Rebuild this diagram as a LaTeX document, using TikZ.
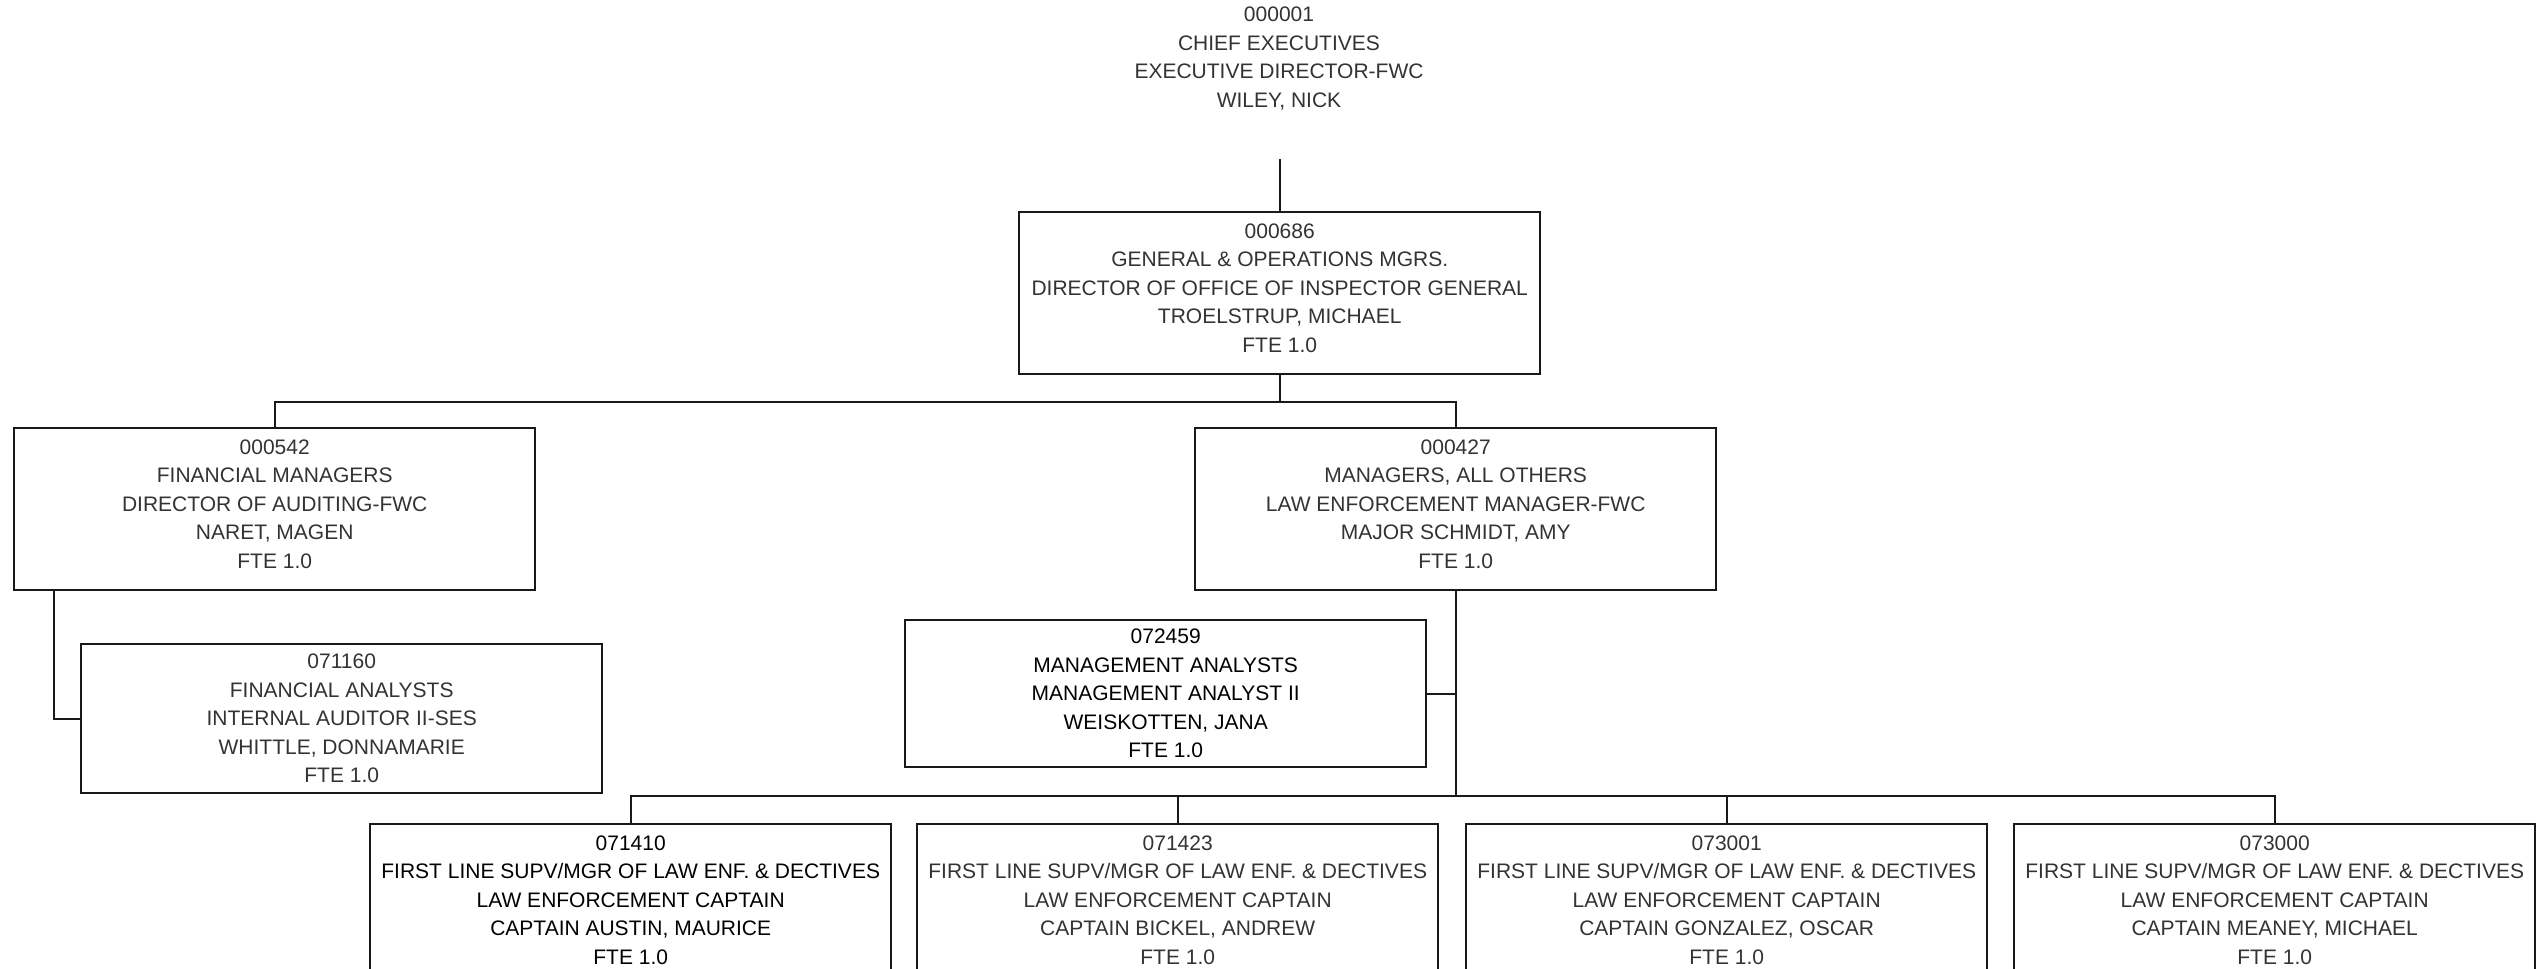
\documentclass[tikz,border=0pt]{standalone}
\usepackage{fontspec}
\setmainfont{Liberation Sans}
\usetikzlibrary{calc}
\begin{document}
\begin{tikzpicture}[x=1pt,y=-1pt,
  label text/.style={font=\fontsize{21}{28.5}\selectfont, align=center,
    text=black!80, inner sep=0pt},
  post/.style={label text, draw=black!90, line width=2.4pt,
    minimum width=521pt, anchor=north west},
  tallpost/.style={post, minimum height=162pt,
    execute at end node={\rule[-11pt]{0pt}{0pt}}},
  dark/.style={text=black},
  link/.style={draw=black!90, line width=2pt},
]
\useasboundingbox (0,0) rectangle (2546,969);
\fill[white] (0,0) rectangle (2546,969);
\clip (0,0) rectangle (2546,969);

% top of the chart (no frame)
\node[label text, anchor=north] (ceo) at (1279,7)
  {000001\\CHIEF EXECUTIVES\\EXECUTIVE DIRECTOR-FWC\\WILEY, NICK};

% positions
\node[tallpost] (b686) at (1018,211)
  {000686\\GENERAL \& OPERATIONS MGRS.\\DIRECTOR OF OFFICE OF INSPECTOR GENERAL\\TROELSTRUP, MICHAEL\\FTE 1.0};
\node[tallpost] (b542) at (13,427)
  {000542\\FINANCIAL MANAGERS\\DIRECTOR OF AUDITING-FWC\\NARET, MAGEN\\FTE 1.0};
\node[tallpost] (b427) at (1194,427)
  {000427\\MANAGERS, ALL OTHERS\\LAW ENFORCEMENT MANAGER-FWC\\MAJOR SCHMIDT, AMY\\FTE 1.0};
\node[post, dark, minimum height=147pt] (b459) at (904,619)
  {072459\\MANAGEMENT ANALYSTS\\MANAGEMENT ANALYST II\\WEISKOTTEN, JANA\\FTE 1.0};
\node[post, minimum height=149pt] (b160) at (80,643)
  {071160\\FINANCIAL ANALYSTS\\INTERNAL AUDITOR II-SES\\WHITTLE, DONNAMARIE\\FTE 1.0};

\node[tallpost, dark] (c1) at (369,823)
  {071410\\FIRST LINE SUPV/MGR OF LAW ENF. \& DECTIVES\\LAW ENFORCEMENT CAPTAIN\\CAPTAIN AUSTIN, MAURICE\\FTE 1.0};
\node[tallpost] (c2) at (916,823)
  {071423\\FIRST LINE SUPV/MGR OF LAW ENF. \& DECTIVES\\LAW ENFORCEMENT CAPTAIN\\CAPTAIN BICKEL, ANDREW\\FTE 1.0};
\node[tallpost] (c3) at (1465,823)
  {073001\\FIRST LINE SUPV/MGR OF LAW ENF. \& DECTIVES\\LAW ENFORCEMENT CAPTAIN\\CAPTAIN GONZALEZ, OSCAR\\FTE 1.0};
\node[tallpost] (c4) at (2013,823)
  {073000\\FIRST LINE SUPV/MGR OF LAW ENF. \& DECTIVES\\LAW ENFORCEMENT CAPTAIN\\CAPTAIN MEANEY, MICHAEL\\FTE 1.0};

% reporting lines
\path (b686.north) ++(0,-52) coordinate (ceoout);
\draw[link] (ceoout) -- (b686.north);

\coordinate (busA) at ($(b686.south)+(0,27)$);
\draw[link] (b686.south) -- (busA);
\draw[link] (b542.north) |- (busA) -| (b427.north);

\draw[link] ($(b542.south west)+(41,0)$) |- (b160.west);

\coordinate (busB) at ($(b427.south)+(0,205)$);
\draw[link] (b427.south) -- (busB);
\draw[link] (b459.east) -- (b459.east -| busB);
\draw[link] (c1.north) |- (busB) -| (c4.north);
\draw[link] (c2.north) -- (c2.north |- busB);
\draw[link] (c3.north) -- (c3.north |- busB);
\end{tikzpicture}
\end{document}
